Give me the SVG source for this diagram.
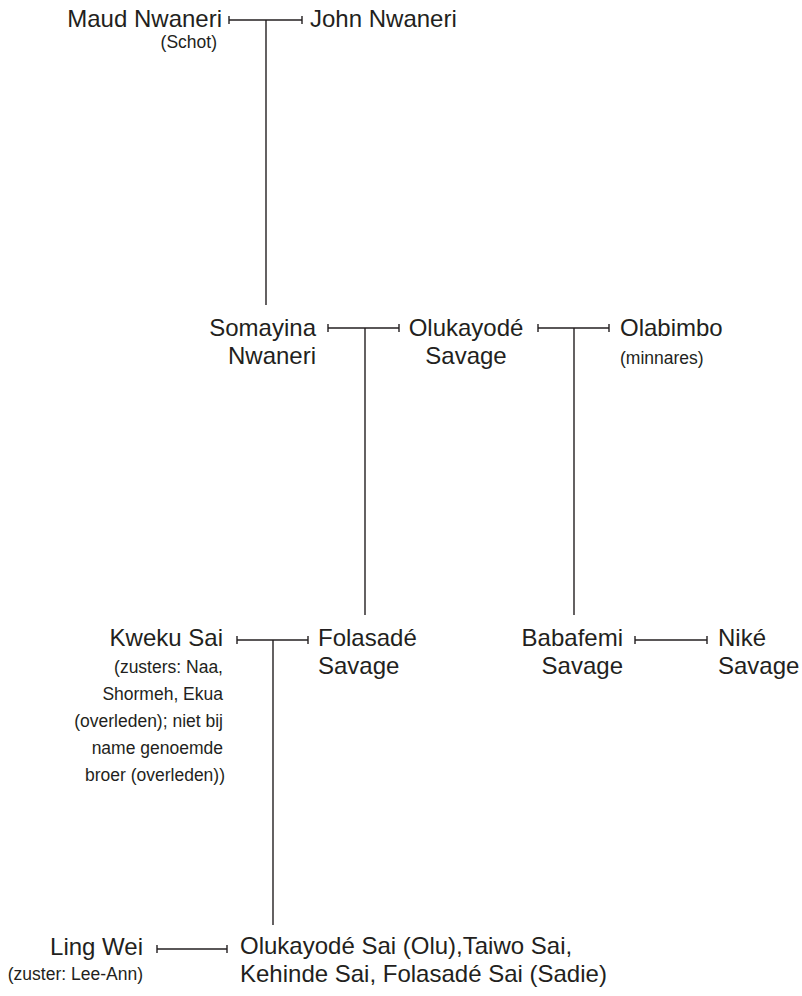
<svg xmlns="http://www.w3.org/2000/svg" width="802" height="996" viewBox="0 0 802 996">
<style>
  .bg{fill:#ffffff}
  .n{font-family:"Liberation Sans",Arial,sans-serif;font-size:24px;fill:#231f20}
  .s{font-family:"Liberation Sans",Arial,sans-serif;font-size:17.5px;fill:#231f20}
  .e{text-anchor:end}
  .m{text-anchor:middle}
  .c{fill:none;stroke:#231f20;stroke-width:1.4}
  .cp{marker-start:url(#tick);marker-end:url(#tick)}
</style>
<defs>
  <marker id="tick" viewBox="0 0 2 10" refX="1" refY="5" markerWidth="2" markerHeight="10" markerUnits="userSpaceOnUse" orient="auto">
    <path d="M1,1 V9" stroke="#231f20" stroke-width="1.4" fill="none"/>
  </marker>
</defs>
<rect class="bg" x="0" y="0" width="802" height="996"/>
<g id="connectors">
  <path class="c cp" d="M229,20 H302"/>
  <path class="c" d="M266,20 V305"/>
  <path class="c cp" d="M328,328 H399"/>
  <path class="c" d="M365,328 V615"/>
  <path class="c cp" d="M538,328 H609"/>
  <path class="c" d="M574,328 V615"/>
  <path class="c cp" d="M237,640 H308"/>
  <path class="c" d="M273,640 V925"/>
  <path class="c cp" d="M635,640 H707"/>
  <path class="c cp" d="M157,949 H227"/>
</g>
<g id="maud">
  <text class="n e" x="222" y="27">Maud Nwaneri</text>
  <text class="s e" x="217" y="48">(Schot)</text>
</g>
<g id="john">
  <text class="n" x="310" y="27">John Nwaneri</text>
</g>
<g id="somayina">
  <text class="n e" x="316" y="336">Somayina</text>
  <text class="n e" x="316" y="364">Nwaneri</text>
</g>
<g id="olukayode">
  <text class="n m" x="466" y="336">Olukayodé</text>
  <text class="n m" x="466" y="364">Savage</text>
</g>
<g id="olabimbo">
  <text class="n" x="620" y="336">Olabimbo</text>
  <text class="s" x="620" y="364">(minnares)</text>
</g>
<g id="kweku">
  <text class="n e" x="223" y="646">Kweku Sai</text>
  <text class="s e" x="223" y="673">(zusters: Naa,</text>
  <text class="s e" x="223" y="700">Shormeh, Ekua</text>
  <text class="s e" x="223" y="727">(overleden); niet bij</text>
  <text class="s e" x="223" y="754">name genoemde</text>
  <text class="s e" x="225" y="781">broer (overleden))</text>
</g>
<g id="folasade">
  <text class="n" x="318" y="646">Folasadé</text>
  <text class="n" x="318" y="674">Savage</text>
</g>
<g id="babafemi">
  <text class="n e" x="623" y="646">Babafemi</text>
  <text class="n e" x="623" y="674">Savage</text>
</g>
<g id="nike">
  <text class="n" x="718" y="646">Niké</text>
  <text class="n" x="718" y="674">Savage</text>
</g>
<g id="lingwei">
  <text class="n e" x="143" y="955">Ling Wei</text>
  <text class="s e" x="143" y="980">(zuster: Lee-Ann)</text>
</g>
<g id="children">
  <text class="n" x="240" y="954">Olukayodé Sai (Olu),Taiwo Sai,</text>
  <text class="n" x="240" y="982">Kehinde Sai, Folasadé Sai (Sadie)</text>
</g>
</svg>
